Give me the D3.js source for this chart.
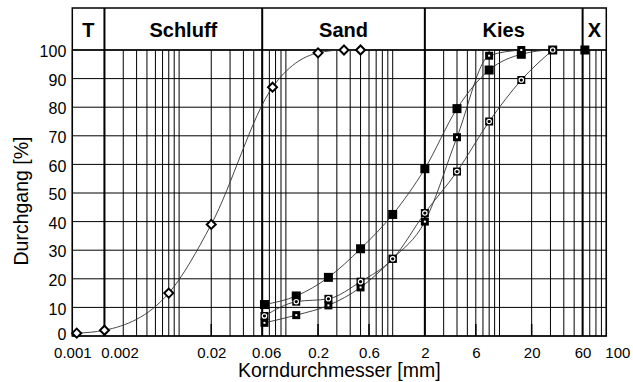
<!DOCTYPE html>
<html>
<head>
<meta charset="utf-8">
<script src="https://cdn.jsdelivr.net/npm/d3@7"></script>
<style>
  body { margin: 0; background: #fff; }
  svg { display: block; font-family: Arial, "Liberation Sans", sans-serif; }
</style>
</head>
<body>
<svg id="chart" width="633" height="382"></svg>
<script>
// soil classes across the top band
const classNames = ["T", "Schluff", "Sand", "Kies", "X"];
const classBounds = [0.001, 0.002, 0.06, 2, 60, 100];

// x axis labels
const xTicks = [0.001, 0.002, 0.02, 0.06, 0.2, 0.6, 2, 6, 20, 60, 100];
const xTickLabels = ["0.001", "0.002", "0.02", "0.06", "0.2", "0.6", "2", "6", "20", "60", "100"];
const yTicks = [0, 10, 20, 30, 40, 50, 60, 70, 80, 90, 100];

// fine sample (diamonds)
const fineSizes = [0.0011, 0.002, 0.008, 0.02, 0.075, 0.2, 0.35, 0.5];
const finePassing = [1, 2, 15, 39, 87, 99, 100, 100];

// sieve samples (squares)
const sieveSizes = [0.063, 0.125, 0.25, 0.5, 1, 2, 4, 8, 16, 31.5, 63];
const sampleFilled = [11, 14, 20.5, 30.5, 42.5, 58.5, 79.5, 93, 98.5, 100, 100];
const sampleDot = [4.6, 7.3, 10.7, 17, 27, 40, 69.5, 98, 100];
const sampleRing = [7, 12, 13, 19, 27, 43, 57.5, 75, 89.5, 100];

const svg = d3.select("#chart");
const plotL = 72.3, plotR = 606.3, plotT = 50, plotB = 336, bandT = 8;

const x = d3.scaleLog().domain([0.001, 100]).range([plotL, plotR]);
const y = d3.scaleLinear().domain([0, 100]).range([plotB, plotT]);

// log grid
const gridX = [];
[0.001, 0.01, 0.1, 1, 10].forEach(d => {
    for (let k = 1; k <= 9; k++) gridX.push(+(k * d).toPrecision(3));
});
gridX.push(100);

svg.append("g").selectAll("line")
   .data(gridX)
   .join("line")
   .attr("x1", d => x(d)).attr("x2", d => x(d))
   .attr("y1", plotT).attr("y2", plotB)
   .attr("stroke", "#000").attr("stroke-width", 1);

svg.append("g").selectAll("line")
   .data(yTicks)
   .join("line")
   .attr("x1", plotL).attr("x2", plotR)
   .attr("y1", d => y(d)).attr("y2", d => y(d))
   .attr("stroke", "#000").attr("stroke-width", 1);

// short ticks at the bottom
svg.append("g").selectAll("line")
   .data([0.02, 0.2, 0.6, 6, 20])
   .join("line")
   .attr("x1", d => x(d)).attr("x2", d => x(d))
   .attr("y1", plotB).attr("y2", plotB - 12)
   .attr("stroke", "#000").attr("stroke-width", 1.5);

// class boundaries
svg.append("g").selectAll("line")
   .data(classBounds.slice(1, -1))
   .join("line")
   .attr("x1", d => x(d)).attr("x2", d => x(d))
   .attr("y1", bandT).attr("y2", plotB)
   .attr("stroke", "#000").attr("stroke-width", 2);

// frame + band
svg.append("rect")
   .attr("x", plotL).attr("y", bandT)
   .attr("width", plotR - plotL).attr("height", plotB - bandT)
   .attr("fill", "none").attr("stroke", "#000").attr("stroke-width", 1.5);
svg.append("line")
   .attr("x1", plotL).attr("x2", plotR)
   .attr("y1", plotT).attr("y2", plotT)
   .attr("stroke", "#000").attr("stroke-width", 1.5);

svg.append("g").selectAll("text")
   .data(classNames)
   .join("text")
   .attr("x", (d, i) => (x(classBounds[i]) + x(classBounds[i + 1])) / 2)
   .attr("y", 37)
   .attr("text-anchor", "middle")
   .attr("font-size", 20).attr("font-weight", "bold")
   .text(d => d);

// axes
const labelShift = { 0.002: 15, 0.06: 4, 100: 11 };
const xAxis = svg.append("g")
   .attr("transform", `translate(0,${plotB})`)
   .call(d3.axisBottom(x).tickValues(xTicks)
         .tickFormat((d, i) => xTickLabels[i]).tickSize(0).tickPadding(11));
xAxis.select(".domain").remove();
xAxis.selectAll("text")
   .attr("font-size", 15).attr("font-family", "Arial, 'Liberation Sans', sans-serif")
   .attr("fill", "#000")
   .attr("dx", d => labelShift[d] || 0);

const yAxis = svg.append("g")
   .attr("transform", `translate(${plotL},0)`)
   .call(d3.axisLeft(y).tickValues(yTicks).tickSize(0).tickPadding(6));
yAxis.select(".domain").remove();
yAxis.selectAll("text")
   .attr("font-size", 16).attr("font-family", "Arial, 'Liberation Sans', sans-serif")
   .attr("fill", "#000").attr("dy", d => d === 0 ? "0.2em" : "0.42em");

svg.append("text")
   .attr("x", (plotL + plotR) / 2).attr("y", 377)
   .attr("text-anchor", "middle").attr("font-size", 19.5)
   .text("Korndurchmesser [mm]");

svg.append("text")
   .attr("transform", "translate(28,201) rotate(-90)")
   .attr("text-anchor", "middle").attr("font-size", 19.5)
   .text("Durchgang [%]");

// curves
const line = d3.line()
   .x(d => x(d[0])).y(d => y(d[1]))
   .curve(d3.curveMonotoneX);

const series = [
    { sizes: fineSizes, values: finePassing, mark: "diamond" },
    { sizes: sieveSizes, values: sampleFilled, mark: "filled" },
    { sizes: sieveSizes, values: sampleDot, mark: "dot" },
    { sizes: sieveSizes, values: sampleRing, mark: "ring" }
];
series.forEach(s => {
    s.points = s.values.map((v, i) => [s.sizes[i], v]);
});

svg.append("g").selectAll("path")
   .data(series)
   .join("path")
   .attr("d", d => line(d.points))
   .attr("fill", "none").attr("stroke", "#333").attr("stroke-width", 0.9);

// markers
series.forEach(s => {
    const g = svg.append("g").selectAll("g")
       .data(s.points)
       .join("g")
       .attr("transform", d => `translate(${x(d[0])},${y(d[1])})`);
    if (s.mark === "diamond") {
        g.append("path")
         .attr("d", "M0,-4.5L4.5,0L0,4.5L-4.5,0Z")
         .attr("fill", "#fff").attr("stroke", "#000").attr("stroke-width", 2);
    } else if (s.mark === "filled") {
        g.append("rect")
         .attr("x", -4.5).attr("y", -4.5).attr("width", 9).attr("height", 9)
         .attr("fill", "#000");
    } else if (s.mark === "dot") {
        g.append("rect")
         .attr("x", -4).attr("y", -4).attr("width", 8).attr("height", 8)
         .attr("fill", "#000");
        g.append("rect")
         .attr("x", -1).attr("y", -1).attr("width", 2).attr("height", 2)
         .attr("fill", "#fff");
    } else {
        g.append("rect")
         .attr("x", -4).attr("y", -4).attr("width", 8).attr("height", 8)
         .attr("fill", "#000");
        g.append("circle")
         .attr("r", 2.2).attr("fill", "none")
         .attr("stroke", "#fff").attr("stroke-width", 1.2);
    }
});
</script>
</body>
</html>
